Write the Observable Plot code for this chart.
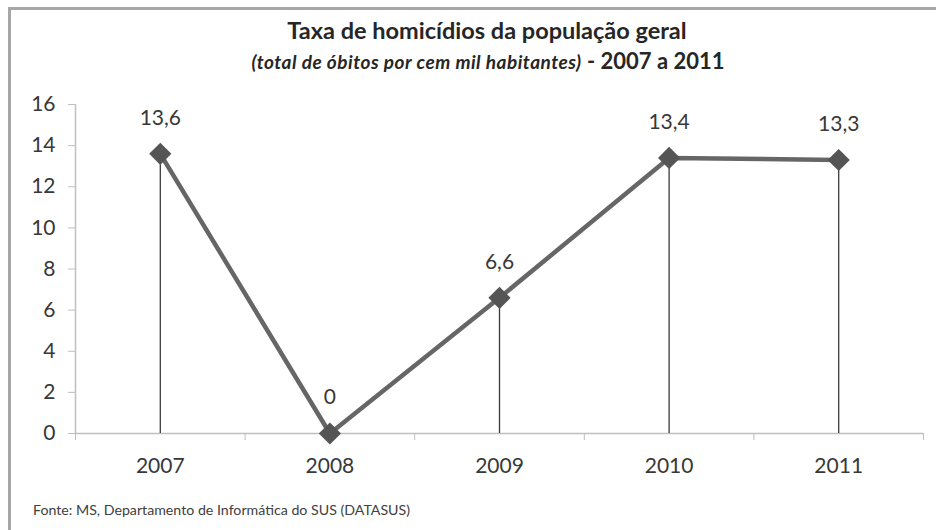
<!DOCTYPE html>
<html>
<head>
<meta charset="utf-8">
<script src="https://cdn.jsdelivr.net/npm/d3@7"></script>
<script src="https://cdn.jsdelivr.net/npm/@observablehq/plot@0.6"></script>
<style>
  html, body { margin: 0; padding: 0; background: #fff; }
  body { width: 936px; height: 530px; position: relative; overflow: hidden; font-family: Lato, "Open Sans", sans-serif; }
  #frame { position: absolute; left: 8px; top: 7px; width: 1000px; height: 600px;
           border-left: 3px solid #a6a6a6; border-top: 3px solid #a6a6a6; box-sizing: border-box; }
  #title { position: absolute; left: 0; width: 974px; top: 18px; text-align: center;
           font-size: 23.5px; line-height: 24px; font-weight: 700; color: #262626; }
  #subtitle { position: absolute; left: 0; width: 976px; top: 49px; text-align: center;
              line-height: 24px; font-weight: 700; color: #262626; }
  #subtitle .it { font-style: italic; font-size: 19px; letter-spacing: 0.5px; }
  #subtitle .yr { font-size: 22px; }
  #chart { position: absolute; left: 0; top: 80px; }
  #caption { position: absolute; left: 33px; top: 502px; font-size: 14.2px; line-height: 16px; color: #404040; }
</style>
</head>
<body>
<div id="frame"></div>
<div id="title">Taxa de homicídios da população geral</div>
<div id="subtitle"><span class="it">(total de óbitos por cem mil habitantes)</span><span class="yr"> - 2007 a 2011</span></div>
<div id="chart"></div>
<div id="caption">Fonte: MS, Departamento de Informática do SUS (DATASUS)</div>
<script>
const years = [2007, 2008, 2009, 2010, 2011];
const values = [13.6, 0, 6.6, 13.4, 13.3];
const yTicks = [0, 2, 4, 6, 8, 10, 12, 14, 16];

const data = years.map((year, i) => ({year, value: values[i]}));
const boundaries = [years[0] - 0.5, ...years.map(y => y + 0.5)];
const fmt = v => String(v).replace(".", ",");
const axisColor = "#bfbfbf";
const textColor = "#383838";

const chart = Plot.plot({
  width: 936,
  height: 410,
  marginLeft: 75,
  marginRight: 13,
  marginTop: 24,
  marginBottom: 57,
  style: {fontFamily: "Lato, 'Open Sans', sans-serif", background: "transparent"},
  x: {type: "linear", domain: [boundaries[0], boundaries[boundaries.length - 1]]},
  y: {domain: [0, 16]},
  marks: [
    Plot.ruleY([0], {stroke: axisColor, strokeWidth: 1.5}),
    Plot.ruleX([boundaries[0]], {y1: 0, y2: 16, stroke: axisColor, strokeWidth: 1.5}),
    Plot.axisY(yTicks, {tickSize: 7, tickPadding: 13, stroke: axisColor, fill: textColor, fontSize: 21, label: null}),
    Plot.axisX(boundaries, {tickSize: 7, stroke: axisColor, tickFormat: () => "", label: null}),
    Plot.axisX(years, {tickSize: 0, tickPadding: 25, fill: textColor, fontSize: 21, tickFormat: d => String(d), label: null}),
    Plot.ruleX(data, {x: "year", y1: 0, y2: "value", stroke: "#3a3a3a", strokeWidth: 1.3}),
    Plot.line(data, {x: "year", y: "value", stroke: "#666666", strokeWidth: 4.5}),
    Plot.dot(data, {x: "year", y: "value", symbol: "diamond2", r: 10, fill: "#555555", stroke: "none"}),
    Plot.text(data, {x: "year", y: "value", text: d => fmt(d.value), dy: -36, fontSize: 21, fill: textColor})
  ]
});
document.getElementById("chart").appendChild(chart);
</script>
</body>
</html>
